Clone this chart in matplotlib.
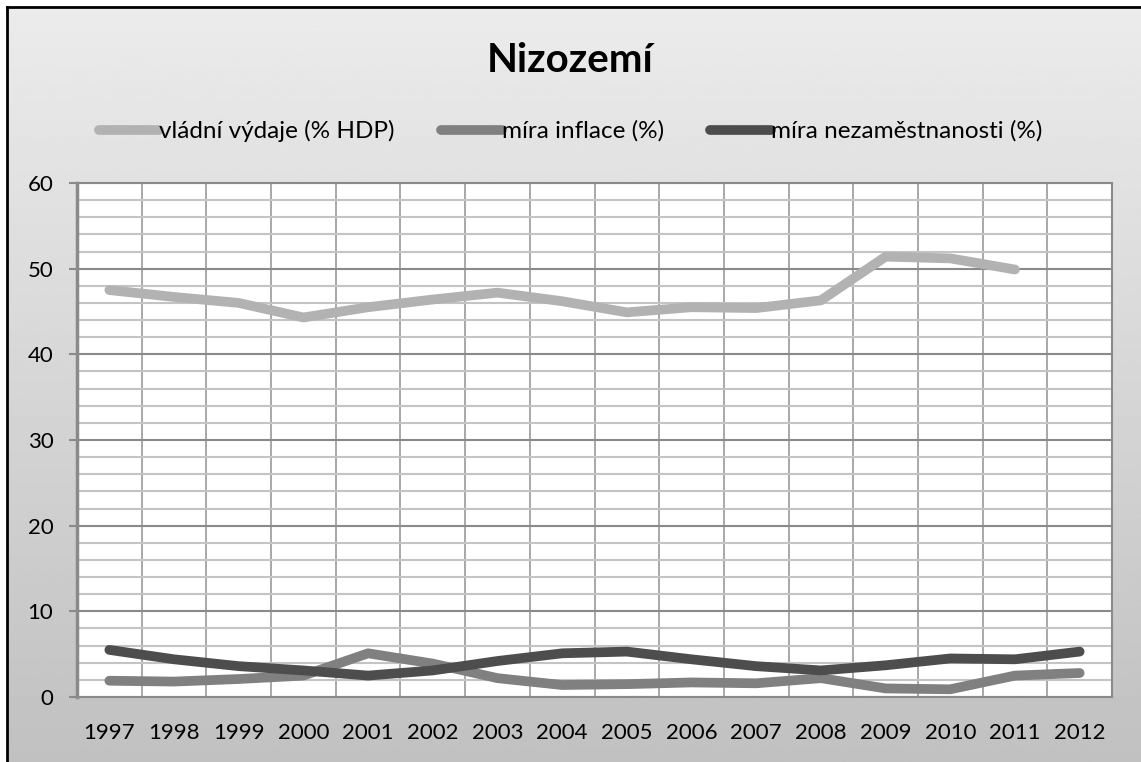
import numpy as np
import matplotlib
matplotlib.use('Agg')
import matplotlib.pyplot as plt
from matplotlib.patches import Rectangle
from matplotlib.ticker import MultipleLocator

# data
years = ['1997', '1998', '1999', '2000', '2001', '2002', '2003', '2004',
         '2005', '2006', '2007', '2008', '2009', '2010', '2011', '2012']
vydaje = [47.5, 46.7, 46.0, 44.3, 45.5, 46.4, 47.2, 46.2,
          44.9, 45.5, 45.4, 46.3, 51.4, 51.2, 49.9, np.nan]
inflace = [1.9, 1.8, 2.1, 2.5, 5.1, 3.9, 2.2, 1.4,
           1.5, 1.7, 1.6, 2.2, 1.0, 0.9, 2.5, 2.8]
nezamestnanost = [5.5, 4.4, 3.6, 3.1, 2.5, 3.1, 4.2, 5.1,
                  5.3, 4.4, 3.6, 3.1, 3.7, 4.5, 4.4, 5.3]

labels = ['vládní výdaje (% HDP)', 'míra inflace (%)', 'míra nezaměstnanosti (%)']
colors = ['#b2b2b2', '#808080', '#4d4d4d']

plt.rcParams['font.family'] = ['Lato', 'DejaVu Sans']

W, H = 1141, 762
fig = plt.figure(figsize=(W / 100, H / 100), dpi=100)

# pozadi s prechodem
bg = fig.add_axes([0, 0, 1, 1], zorder=-10)
grad = np.linspace(0.925, 0.755, 256).reshape(-1, 1)
bg.imshow(grad, aspect='auto', cmap='gray', vmin=0, vmax=1,
          extent=[0, 1, 0, 1], origin='upper')
bg.set_xlim(0, 1)
bg.set_ylim(0, 1)
bg.axis('off')
# bily okraj vlevo a nahore
bg.add_patch(Rectangle((0, 0), 7 / W, 1, color='white', zorder=2))
bg.add_patch(Rectangle((0, 1 - 7 / H), 1, 7 / H, color='white', zorder=2))
bg.plot([7 / W, 7 / W], [0, 1 - 7 / H], color='black', lw=2, zorder=3)
bg.plot([7 / W, 1], [1 - 7 / H, 1 - 7 / H], color='black', lw=2, zorder=3)

ax = fig.add_axes([77 / W, 65 / H, (1112 - 77) / W, (697 - 183) / H])
ax.set_facecolor('white')
x = np.arange(len(years))

for vals, lab, col in zip([vydaje, inflace, nezamestnanost], labels, colors):
    ax.plot(x, vals, color=col, lw=7, label=lab,
            solid_capstyle='round', solid_joinstyle='round', zorder=3)

ax.set_xlim(-0.5, len(years) - 0.5)
ax.set_ylim(0, 60)
ax.yaxis.set_major_locator(MultipleLocator(10))
ax.yaxis.set_minor_locator(MultipleLocator(2))
ax.set_xticks(x)
ax.set_xticklabels(years)
ax.set_xticks(np.arange(-0.5, len(years), 1), minor=True)

ax.grid(which='major', axis='y', color='#8a8a8a', lw=1.5, zorder=1)
ax.grid(which='minor', axis='y', color='#c4c4c4', lw=1.5, zorder=1)
ax.grid(which='minor', axis='x', color='#9a9a9a', lw=1.2, zorder=1)
ax.set_axisbelow(True)

for s in ax.spines.values():
    s.set_color('#8a8a8a')
    s.set_linewidth(1.5)
ax.spines['left'].set_linewidth(2.5)

ax.tick_params(axis='y', which='major', length=6, width=1.5, color='#8a8a8a',
               labelsize=16, pad=11)
ax.tick_params(axis='y', which='minor', length=0)
ax.tick_params(axis='x', which='both', length=0, labelsize=16, pad=19)

fig.text(0.5, 1 - 60 / H, 'Nizozemí', ha='center', va='center',
         fontsize=29, fontweight='bold')

leg = fig.legend(loc='center', bbox_to_anchor=(0.5, 1 - 131 / H), ncol=3,
                 frameon=False, fontsize=17.5, handlelength=2.5,
                 handletextpad=0.0, columnspacing=1.9)
for ln in leg.get_lines():
    ln.set_solid_capstyle('round')

fig.savefig('out.png', dpi=100)
